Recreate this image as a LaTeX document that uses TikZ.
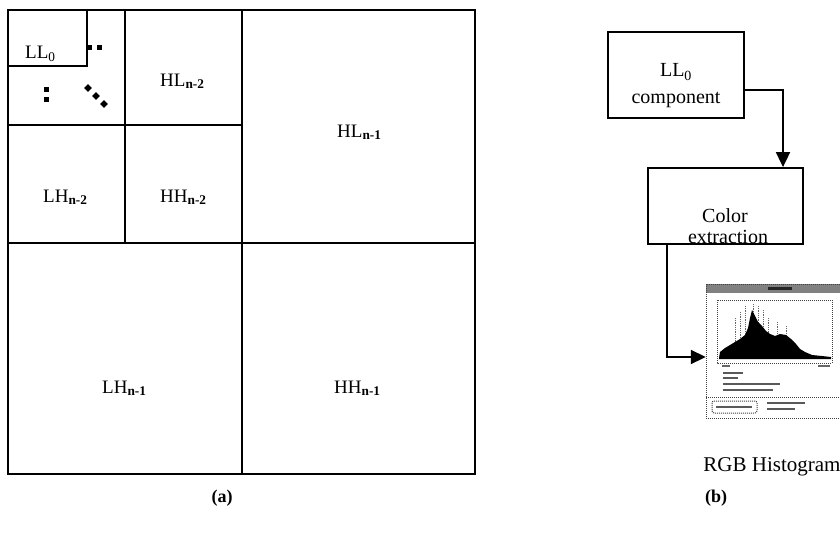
\documentclass[tikz,border=0pt]{standalone}
\usepackage{fontspec}
\setmainfont{Liberation Serif}
\usetikzlibrary{arrows.meta,calc}
\begin{document}
\begin{tikzpicture}[x=1pt,y=-1pt,
  gridline/.style={line width=1.8pt},
  lbl/.style={font=\fontsize{19}{21}\selectfont, anchor=base west, inner sep=0pt},
  rlbl/.style={font=\fontsize{20}{22}\selectfont, anchor=base, inner sep=0pt},
  subcaption/.style={font=\bfseries\fontsize{18}{20}\selectfont, anchor=base, inner sep=0pt},
  flowbox/.style={draw, line width=1.8pt, inner sep=0pt},
  arr/.style={line width=1.8pt, -{Triangle[length=15pt,width=14pt]}},
  dotsq/.style={fill=black, inner sep=0pt, minimum size=5pt},
  dotdm/.style={fill=black, inner sep=0pt, minimum size=5.5pt, rotate=45},
  halftone/.style={draw=black!75, densely dotted, line width=1pt}
]
\useasboundingbox (0,0) rectangle (840,535);

% ---------- (a) wavelet decomposition grid ----------
\draw[gridline] (8,10) rectangle (475,474);
\draw[gridline] (242,10) -- (242,474);
\draw[gridline] (8,243) -- (475,243);
\draw[gridline] (125,10) -- (125,243);
\draw[gridline] (8,125) -- (242,125);
\draw[gridline] (8,10) rectangle (87,66);

\node[dotsq] (d1) at (89,48) {};
\node[dotsq] (d2) at (99,48) {};
\node[dotsq] (d3) at (46,89) {};
\node[dotsq] (d4) at (46,99) {};
\node[dotdm] (d5) at (88,88) {};
\node[dotdm] (d6) at (96,96) {};
\node[dotdm] (d7) at (104,104) {};

\node[lbl] (ll0) at (25,59) {LL\textsubscript{0}};
\node[lbl] (hl2) at (160,86) {HL\textsubscript{\textbf{n-2}}};
\node[lbl] (lh2) at (43,202) {LH\textsubscript{\textbf{n-2}}};
\node[lbl] (hh2) at (160,202) {HH\textsubscript{\textbf{n-2}}};
\node[lbl] (hl1) at (337,137) {HL\textsubscript{\textbf{n-1}}};
\node[lbl] (lh1) at (102,393) {LH\textsubscript{\textbf{n-1}}};
\node[lbl] (hh1) at (334,393) {HH\textsubscript{\textbf{n-1}}};

\node[subcaption] (capa) at (222,502) {(a)};

% ---------- (b) flow ----------
\node[flowbox, minimum width=136pt, minimum height=86pt] (llc) at (676,75) {};
\node[rlbl] (t1) at (676,77) {LL\textsubscript{0}};
\node[rlbl] (t2) at (676,103) {component};

\node[flowbox, minimum width=155pt, minimum height=76pt] (colbox) at (725.5,206) {};
\node[rlbl] (t3) at (725,222) {Color};
\node[rlbl] (t4) at (728,243) {extraction};

% histogram window
\node[inner sep=0pt, minimum width=134pt, minimum height=134pt] (hist) at (773,351) {};
\fill[black!50] (706,284) rectangle (840,293);
\fill[black!85] (768,287) rectangle (792,290);
\draw[halftone] (706,284) rectangle (840,418);
\draw[halftone] (717,300) rectangle (832,363);
\foreach \sx/\sy in {735/318,740/312,745/306,753/304,758/306,763/310,768/318,777/322,786/326}
  \draw[black!60, densely dotted, line width=0.8pt] (\sx,\sy) -- (\sx,345);
\fill[black] (719,358) -- (720,352) -- (725,348) -- (730,345) -- (735,342) -- (740,339)
  -- (745,335) -- (748,328) -- (750,318) -- (752,310) -- (755,316) -- (758,322)
  -- (762,326) -- (766,331) -- (770,334) -- (775,336) -- (780,334) -- (786,335)
  -- (791,339) -- (796,344) -- (800,349) -- (805,352) -- (812,355) -- (822,356)
  -- (831,357) -- (831,359) -- (719,359) -- cycle;
\draw[black!60, line width=1.2pt] (722,366) -- (730,366);
\draw[black!60, line width=1.2pt] (818,366) -- (830,366);
\draw[black!65, line width=1.3pt] (723,373) -- (743,373);
\draw[black!65, line width=1.3pt] (723,378) -- (738,378);
\draw[black!65, line width=1.3pt] (723,384) -- (780,384);
\draw[black!65, line width=1.3pt] (723,390) -- (773,390);
\draw[halftone] (706,397) -- (840,397);
\draw[halftone, rounded corners=2pt] (712,401) rectangle (757,413);
\draw[black!65, line width=1.2pt] (716,407) -- (752,407);
\draw[black!65, line width=1.2pt] (767,403) -- (805,403);
\draw[black!65, line width=1.2pt] (767,409) -- (795,409);

\node[rlbl, font=\fontsize{21}{23}\selectfont] (rgb) at (772,471) {RGB Histogram};
\node[subcaption] (capb) at (716,502) {(b)};

% connectors
\draw[arr] ([yshift=-15pt]llc.east) -| ([xshift=57.5pt]colbox.north);
\draw[arr] ([xshift=-58.5pt]colbox.south) |- ([yshift=-6pt]hist.west);
\end{tikzpicture}
\end{document}
